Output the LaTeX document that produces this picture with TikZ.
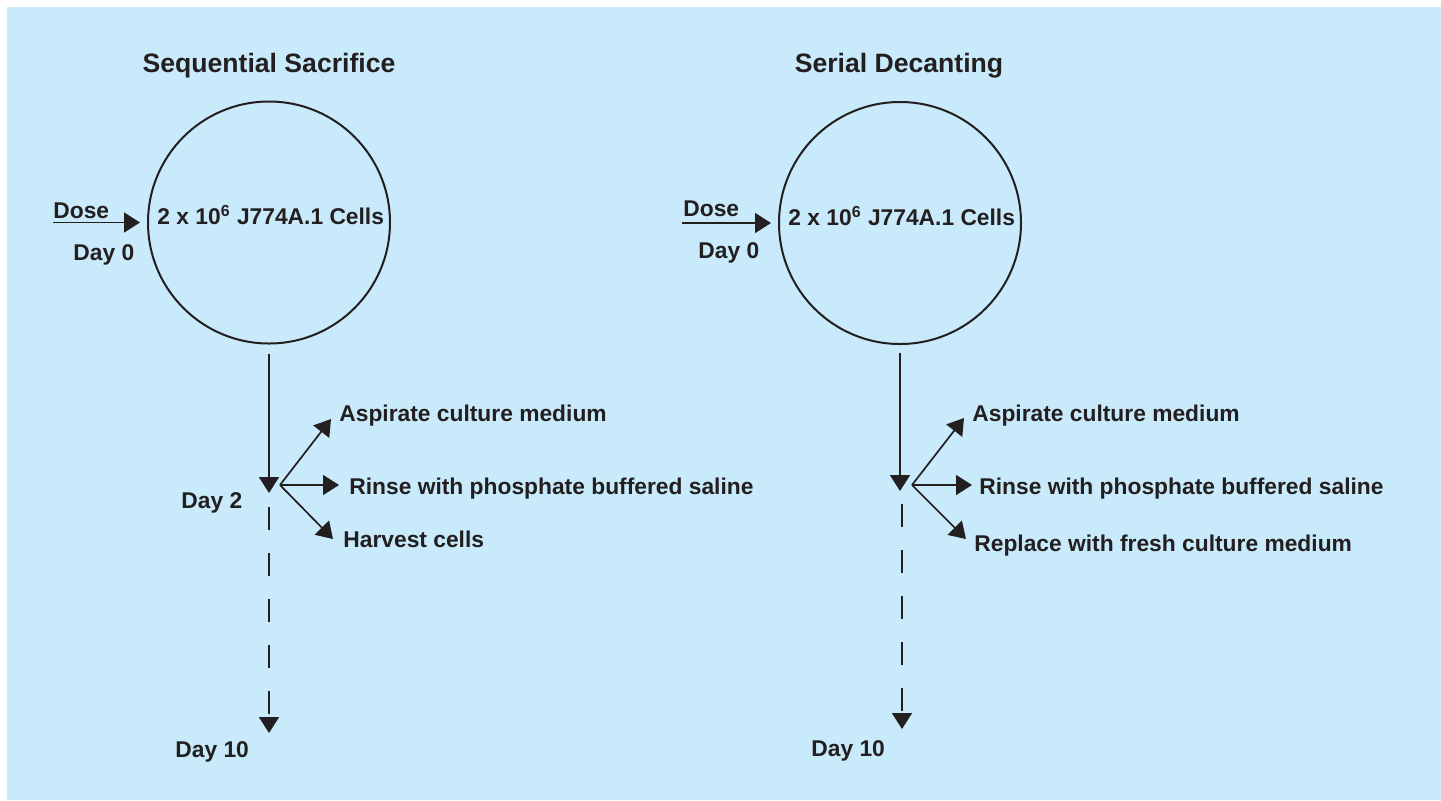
\documentclass[tikz,border=0pt]{standalone}
\usepackage{fontspec}
\setmainfont{Liberation Sans}
\usetikzlibrary{arrows.meta}
\definecolor{bgblue}{RGB}{200,234,250}
\definecolor{ink}{RGB}{35,31,32}
\begin{document}
\begin{tikzpicture}[x=0.5pt,y=-0.5pt,
 lbl/.style={font=\fontsize{11.4}{13}\selectfont\bfseries, text=ink, inner sep=0pt, anchor=base west},
 ttl/.style={font=\fontsize{13.3}{15}\selectfont\bfseries, text=ink, inner sep=0pt, anchor=base},
 cell/.style={circle, draw=ink, line width=1pt, minimum size=121pt, inner sep=0pt},
 arr/.style={draw=ink, line width=0.85pt, -{Triangle[width=10pt,length=8pt]}},
 dsh/.style={arr, dash pattern=on 11.5pt off 11.5pt}]
\useasboundingbox (0,0) rectangle (1441,800);
\fill[bgblue] (7,7) rectangle (1441,800);

% ---------- left: Sequential Sacrifice ----------
\node[ttl] (t1) at (269,72) {Sequential Sacrifice};
\node[cell] (c1) at (269,222.5) {};
\node[lbl] (cells1) at (157,224) {2 x 10\textsuperscript{6} J774A.1 Cells};
\node[lbl] (dose1) at (53,218) {Dose};
\node[lbl] (d01) at (73,260) {Day 0};
\coordinate (ds1) at (53,222.5);
\draw[arr, shorten >=3.5pt] (ds1) -- (c1.west);

\coordinate (v1) at (269,493);
\draw[arr, shorten <=4.5pt] (c1.south) -- (v1);
\node[lbl] (d21) at (181,508) {Day 2};

\coordinate (b1) at (280,485);
\coordinate (a1) at (331,419);
\coordinate (r1) at (339,485);
\coordinate (h1) at (333,539);
\draw[arr] (b1) -- (a1);
\draw[arr] (b1) -- (r1);
\draw[arr] (b1) -- (h1);
\node[lbl] (asp1) at (339,421) {Aspirate culture medium};
\node[lbl] (rin1) at (349,494) {Rinse with phosphate buffered saline};
\node[lbl] (har1) at (343,547) {Harvest cells};

\coordinate (es1) at (269,507);
\coordinate (ee1) at (269,733);
\draw[dsh] (es1) -- (ee1);
\node[lbl] (d101) at (175,757) {Day 10};

% ---------- right: Serial Decanting ----------
\node[ttl] (t2) at (899,72) {Serial Decanting};
\node[cell] (c2) at (900,223) {};
\node[lbl] (cells2) at (788,225) {2 x 10\textsuperscript{6} J774A.1 Cells};
\node[lbl] (dose2) at (683,216) {Dose};
\node[lbl] (d02) at (698,258) {Day 0};
\coordinate (ds2) at (682,223);
\draw[arr, shorten >=3.5pt] (ds2) -- (c2.west);

\coordinate (v2) at (900,491);
\draw[arr, shorten <=4pt] (c2.south) -- (v2);

\coordinate (b2) at (912,485);
\coordinate (a2) at (964,418);
\coordinate (r2) at (972,485);
\coordinate (h2) at (966,539);
\draw[arr] (b2) -- (a2);
\draw[arr] (b2) -- (r2);
\draw[arr] (b2) -- (h2);
\node[lbl] (asp2) at (972,421) {Aspirate culture medium};
\node[lbl] (rin2) at (979,494) {Rinse with phosphate buffered saline};
\node[lbl] (rep2) at (974,551) {Replace with fresh culture medium};

\coordinate (es2) at (902,504);
\coordinate (ee2) at (902,729);
\draw[dsh] (es2) -- (ee2);
\node[lbl] (d102) at (811,756) {Day 10};
\end{tikzpicture}
\end{document}
